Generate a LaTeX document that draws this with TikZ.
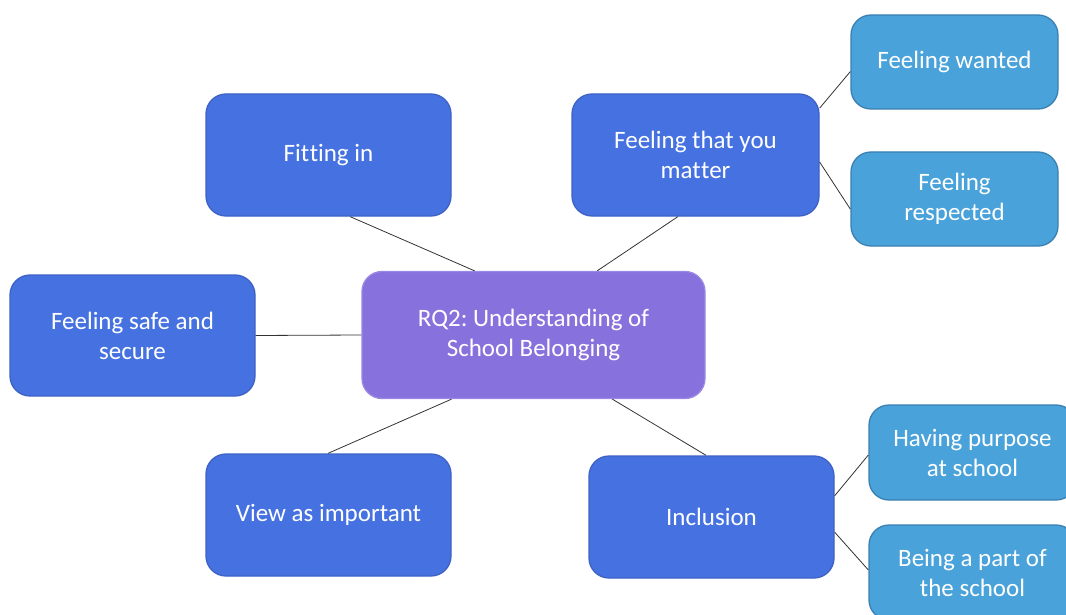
\documentclass[tikz,border=0pt]{standalone}
\usepackage{fontspec}
\setmainfont[Ligatures={NoCommon,NoContextual},Contextuals={NoAlternate}]{Carlito}
\frenchspacing
\usetikzlibrary{calc}
\definecolor{dblue}{HTML}{4672E1}
\definecolor{dblueb}{HTML}{3D62C4}
\definecolor{lblue}{HTML}{49A2DA}
\definecolor{lblueb}{HTML}{3A80B2}
\definecolor{purp}{HTML}{8772DD}
\definecolor{purpb}{HTML}{9A88E4}
\definecolor{conn}{HTML}{333333}
\tikzset{
  box/.style={rounded corners=20pt, draw, line width=1.3pt, text=white, align=center,
    font=\fontsize{25}{30}\selectfont, inner sep=0pt},
  dbox/.style={box, fill=dblue, draw=dblueb},
  lbox/.style={box, fill=lblue, draw=lblueb},
  pbox/.style={box, fill=purp, draw=purpb},
  link/.style={draw=conn, line width=0.8pt}
}
\begin{document}
\begin{tikzpicture}[x=1pt,y=-1pt]
\useasboundingbox (0,0) rectangle (1066,615);
\begin{scope}
\clip (0,0) rectangle (1066,615);
\node[pbox, minimum width=343pt, minimum height=127pt] (c) at (533.5,335) {RQ2: Understanding of\\School Belonging};
\node[lbox, minimum width=207pt, minimum height=94pt] (w) at (954.5,62) {Feeling wanted};
\node[lbox, minimum width=207pt, minimum height=94pt] (r) at (954.5,199) {Feeling\\respected};
\node[dbox, minimum width=247pt, minimum height=122pt] (m) at (695.5,155) {Feeling that you\\mat\kern0.5pt ter};
\node[dbox, minimum width=245pt, minimum height=122pt] (f) at (328.5,155) {Fit\kern0.5pt ting in};
\node[dbox, minimum width=245pt, minimum height=121pt] (s) at (132.5,335.5) {Feeling safe and\\secure};
\node[dbox, minimum width=245pt, minimum height=122pt] (v) at (328.5,515) {View as important};
\node[dbox, minimum width=245pt, minimum height=122pt] (i) at (711.5,517) {Inclusion};
\node[lbox, minimum width=207pt, minimum height=95pt] (p) at (972.5,452.5) {Having purpose\\at school};
\node[lbox, minimum width=207pt, minimum height=95pt] (b) at (972.5,572.5) {Being a part of\\the school};
\end{scope}
\draw[link] ($(f.south west)!0.588!(f.south east)$) -- ($(c.north west)!0.329!(c.north east)$);
\draw[link] ($(m.south west)!0.429!(m.south east)$) -- ($(c.north west)!0.685!(c.north east)$);
\draw[link] (s.east) -- (c.west);
\draw[link] ($(v.north west)!0.498!(v.north east)$) -- ($(c.south west)!0.262!(c.south east)$);
\draw[link] ($(i.north west)!0.478!(i.north east)$) -- ($(c.south west)!0.729!(c.south east)$);
\draw[link] ($(m.north east)!0.12!(m.south east)$) -- ($(w.north west)!0.60!(w.south west)$);
\draw[link] ($(m.north east)!0.557!(m.south east)$) -- ($(r.north west)!0.606!(r.south west)$);
\draw[link] ($(i.north east)!0.328!(i.south east)$) -- ($(p.north west)!0.526!(p.south west)$);
\draw[link] ($(i.north east)!0.623!(i.south east)$) -- ($(b.north west)!0.474!(b.south west)$);
\end{tikzpicture}
\end{document}
